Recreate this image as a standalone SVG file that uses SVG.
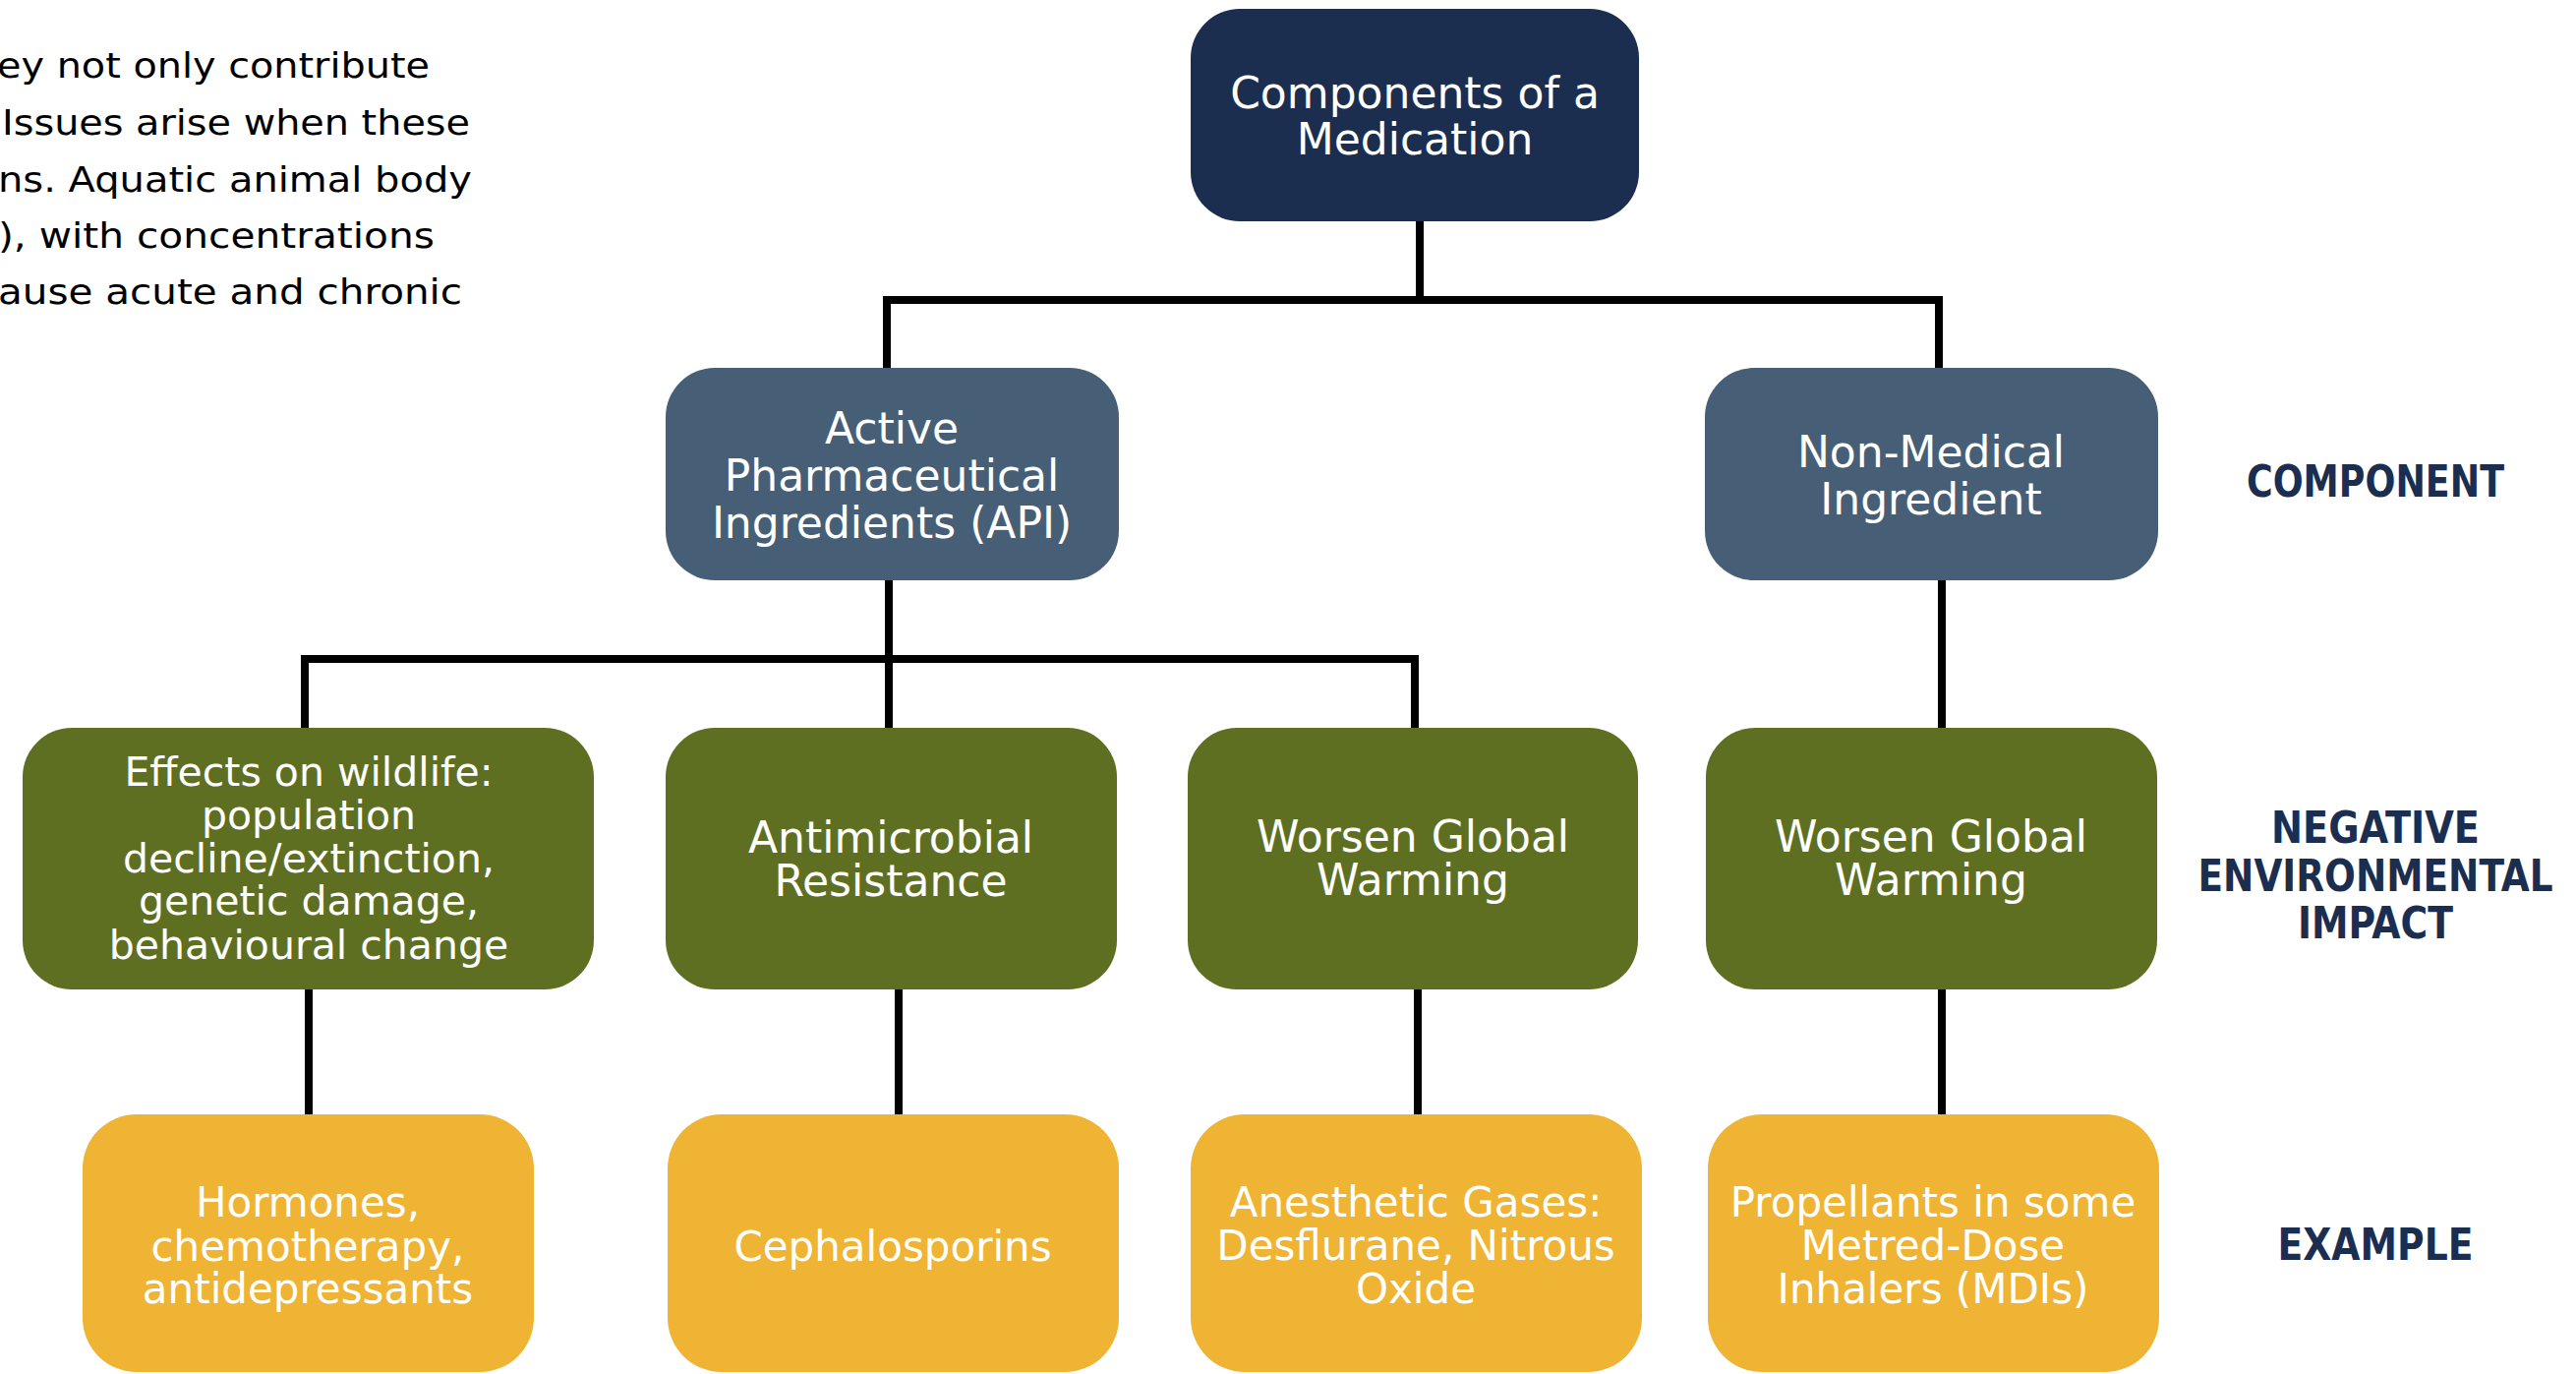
<svg xmlns="http://www.w3.org/2000/svg" width="2620" height="1397" viewBox="0 0 2620 1397">
<style>
.t{font-family:"DejaVu Sans",sans-serif;fill:#ffffff;text-anchor:middle}
.p{font-family:"DejaVu Sans",sans-serif;fill:#000000;text-anchor:end;font-size:36px}
.lab{font-family:"DejaVu Sans Condensed","DejaVu Sans",sans-serif;font-weight:bold;fill:#1b2e4f;text-anchor:middle;font-size:44px}
.navy{fill:#1b2e4f}
.slate{fill:#475f76}
.green{fill:#5e6f21}
.yellow{fill:#efb433}
.conn{fill:none;stroke:#000000;stroke-width:8;stroke-linecap:butt;stroke-linejoin:miter}
</style>
<rect x="0" y="0" width="2620" height="1397" fill="#ffffff"/>
<g id="paragraph">
<text class="p" x="437" y="79" textLength="440" lengthAdjust="spacingAndGlyphs">ey not only contribute</text>
<text class="p" x="478" y="137" textLength="476" lengthAdjust="spacingAndGlyphs">Issues arise when these</text>
<text class="p" x="480" y="195" textLength="482" lengthAdjust="spacingAndGlyphs">ns. Aquatic animal body</text>
<text class="p" x="442" y="252" textLength="444" lengthAdjust="spacingAndGlyphs">), with concentrations</text>
<text class="p" x="470" y="309" textLength="472" lengthAdjust="spacingAndGlyphs">ause acute and chronic</text>
</g>
<g id="connectors">
<path class="conn" d="M1444 225 V305"/>
<path class="conn" d="M902 374 V305 H1972 V374"/>
<path class="conn" d="M904 590 V740"/>
<path class="conn" d="M310 740 V670 H1439 V740"/>
<path class="conn" d="M1975 590 V740"/>
<path class="conn" d="M314 1006 V1133"/>
<path class="conn" d="M914 1006 V1133"/>
<path class="conn" d="M1442 1006 V1133"/>
<path class="conn" d="M1975 1006 V1133"/>
</g>
<g id="root">
<rect class="navy" x="1211" y="9" width="456" height="216" rx="50"/>
<text class="t" font-size="44"><tspan x="1439" y="110">Components of a</tspan><tspan x="1439" y="157">Medication</tspan></text>
</g>
<g id="api">
<rect class="slate" x="677" y="374" width="461" height="216" rx="50"/>
<text class="t" font-size="44"><tspan x="907" y="451">Active</tspan><tspan x="907" y="499">Pharmaceutical</tspan><tspan x="907" y="547">Ingredients (API)</tspan></text>
</g>
<g id="nonmed">
<rect class="slate" x="1734" y="374" width="461" height="216" rx="50"/>
<text class="t" font-size="44"><tspan x="1964" y="475">Non-Medical</tspan><tspan x="1964" y="523">Ingredient</tspan></text>
</g>
<g id="wildlife">
<rect class="green" x="23" y="740" width="581" height="266" rx="50"/>
<text class="t" font-size="41"><tspan x="314" y="799">Effects on wildlife:</tspan><tspan x="314" y="843">population</tspan><tspan x="314" y="887">decline/extinction,</tspan><tspan x="314" y="930">genetic damage,</tspan><tspan x="314" y="975">behavioural change</tspan></text>
</g>
<g id="amr">
<rect class="green" x="677" y="740" width="459" height="266" rx="50"/>
<text class="t" font-size="44"><tspan x="906" y="867">Antimicrobial</tspan><tspan x="906" y="911">Resistance</tspan></text>
</g>
<g id="warming1">
<rect class="green" x="1208" y="740" width="458" height="266" rx="50"/>
<text class="t" font-size="44"><tspan x="1437" y="866">Worsen Global</tspan><tspan x="1437" y="910">Warming</tspan></text>
</g>
<g id="warming2">
<rect class="green" x="1735" y="740" width="459" height="266" rx="50"/>
<text class="t" font-size="44"><tspan x="1964" y="866">Worsen Global</tspan><tspan x="1964" y="910">Warming</tspan></text>
</g>
<g id="hormones">
<rect class="yellow" x="84" y="1133" width="459" height="262" rx="55"/>
<text class="t" font-size="42"><tspan x="313" y="1237">Hormones,</tspan><tspan x="313" y="1282">chemotherapy,</tspan><tspan x="313" y="1325">antidepressants</tspan></text>
</g>
<g id="cephalosporins">
<rect class="yellow" x="679" y="1133" width="459" height="262" rx="55"/>
<text class="t" font-size="42"><tspan x="908" y="1282">Cephalosporins</tspan></text>
</g>
<g id="anesthetic">
<rect class="yellow" x="1211" y="1133" width="459" height="262" rx="55"/>
<text class="t" font-size="42"><tspan x="1440" y="1237">Anesthetic Gases:</tspan><tspan x="1440" y="1281">Desflurane, Nitrous</tspan><tspan x="1440" y="1325">Oxide</tspan></text>
</g>
<g id="propellants">
<rect class="yellow" x="1737" y="1133" width="459" height="262" rx="55"/>
<text class="t" font-size="42"><tspan x="1966" y="1237">Propellants in some</tspan><tspan x="1966" y="1281">Metred-Dose</tspan><tspan x="1966" y="1325">Inhalers (MDIs)</tspan></text>
</g>
<g id="labels">
<text class="lab" x="2416" y="505" textLength="262" lengthAdjust="spacingAndGlyphs">COMPONENT</text>
<text class="lab" x="2416" y="857" textLength="212" lengthAdjust="spacingAndGlyphs">NEGATIVE</text>
<text class="lab" x="2416" y="906" textLength="361" lengthAdjust="spacingAndGlyphs">ENVIRONMENTAL</text>
<text class="lab" x="2416" y="954" textLength="158" lengthAdjust="spacingAndGlyphs">IMPACT</text>
<text class="lab" x="2416" y="1281" textLength="199" lengthAdjust="spacingAndGlyphs">EXAMPLE</text>
</g>
</svg>
